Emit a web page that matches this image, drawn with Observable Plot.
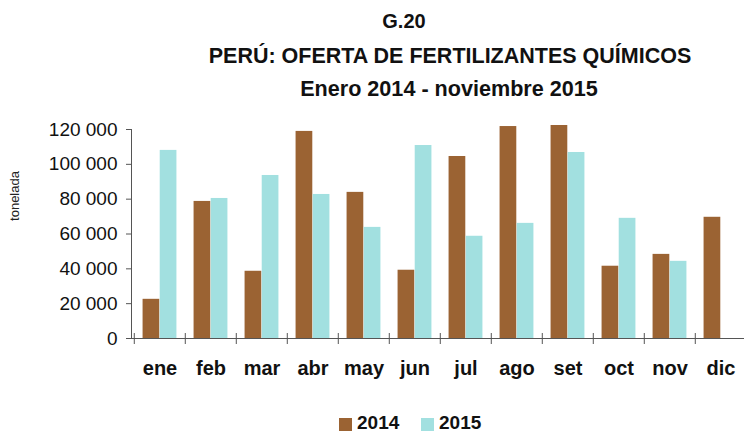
<!DOCTYPE html>
<html>
<head>
<meta charset="utf-8">
<script src="https://cdn.jsdelivr.net/npm/d3@7"></script>
<script src="https://cdn.jsdelivr.net/npm/@observablehq/plot@0.6"></script>
<style>
  html, body { margin: 0; padding: 0; background: #fff; }
  body { width: 744px; height: 432px; overflow: hidden; font-family: "Liberation Sans", Arial, sans-serif; }
  #wrap { position: relative; width: 744px; height: 432px; overflow: hidden; }
  #chart { position: absolute; left: 0; top: 0; width: 760px; }
  .t { position: absolute; font-weight: bold; color: #111; white-space: nowrap; line-height: 1; }
  #ylab { position: absolute; left: 11px; top: 160px; width: 14px; height: 72px; }
  .lg { position: absolute; font-weight: bold; font-size: 19px; color: #111; line-height: 1; }
  .sw { position: absolute; width: 13px; height: 13px; }
</style>
</head>
<body>
<div id="wrap">
  <div id="chart"></div>
  <div class="t" id="g20" style="font-size:20px;">G.20</div>
  <div class="t" id="t1" style="font-size:21.5px;">PERÚ: OFERTA DE FERTILIZANTES QUÍMICOS</div>
  <div class="t" id="t2" style="font-size:21.6px;">Enero 2014 - noviembre 2015</div>
  <div id="ylab"><svg width="20" height="80" style="overflow:visible"><text transform="translate(8,36) rotate(-90)" text-anchor="middle" font-size="13" font-family="Liberation Sans, Arial, sans-serif" fill="#222">tonelada</text></svg></div>
  <div id="legend"></div>
</div>
<script>
const months = ["ene","feb","mar","abr","may","jun","jul","ago","set","oct","nov","dic"];
const series = ["2014","2015"];
const values2014 = [22500, 78700, 38600, 118900, 83900, 39200, 104500, 121700, 122300, 41500, 48300, 69600];
const values2015 = [108000, 80400, 93600, 82700, 63800, 110800, 58700, 66100, 106800, 69000, 44300, null];
const yTicks = [0, 20000, 40000, 60000, 80000, 100000, 120000];
const colors = ["#9b6333", "#a2e0e0"];

const data = [];
months.forEach((m, i) => {
  if (values2014[i] != null) data.push({month: m, year: "2014", value: values2014[i]});
  if (values2015[i] != null) data.push({month: m, year: "2015", value: values2015[i]});
});

const W = 760, H = 432, mL = 131, mR = 12, mT = 129, mB = 94;
const step = (W - mL - mR) / months.length;
const barW = step / 3;
const gapL = (step - 2 * barW) / 2;

const fmt = d => d3.format(",")(d).replace(/,/g, " ");
const axisColor = "#555";

const chart = Plot.plot({
  width: W, height: H,
  marginLeft: mL, marginRight: mR, marginTop: mT, marginBottom: mB,
  style: {fontFamily: "Liberation Sans, Arial, sans-serif", background: "transparent", color: "#111", maxWidth: "none", overflow: "visible"},
  x: {type: "band", domain: months, padding: 0, axis: null},
  y: {domain: [0, 120000], axis: null, label: null},
  color: {domain: series, range: colors},
  marks: [
    Plot.barY(data.filter(d => d.year === "2014"), {x: "month", y: "value", fill: "year",
      insetLeft: gapL, insetRight: step - gapL - barW}),
    Plot.barY(data.filter(d => d.year === "2015"), {x: "month", y: "value", fill: "year",
      insetLeft: gapL + barW, insetRight: step - gapL - 2 * barW}),
    Plot.frame({anchor: "left", stroke: axisColor}),
    Plot.ruleY([0], {stroke: axisColor}),
    Plot.ruleX(months, {x: d => d, dx: -step / 2, y1: 0, y2: 0, insetTop: -5, insetBottom: -6, stroke: axisColor}),
    Plot.axisY({ticks: yTicks, tickFormat: fmt, tickSize: 5, tickPadding: 9, fontSize: 19, stroke: axisColor, fill: "#111", label: null}),
    Plot.ruleY(yTicks, {y: d => d, x1: months[0], x2: months[0], dx: -step / 2, insetLeft: 0, insetRight: -6, stroke: axisColor}),
    Plot.axisX({tickSize: 0, tickPadding: 22, fontSize: 20, fontWeight: "bold", fill: "#111", label: null})
  ]
});
document.getElementById("chart").appendChild(chart);

function place(id, cx, baseline, size) {
  const el = document.getElementById(id);
  const w = el.getBoundingClientRect().width;
  el.style.left = (cx - w / 2) + "px";
  el.style.top = (baseline - size * 0.9) + "px";
}
place("g20", 404, 29, 20);
place("t1", 450, 65, 21.5);
place("t2", 449, 97, 21.6);

const lg = document.getElementById("legend");
const legendPos = [{sx: 339, tx: 357}, {sx: 421, tx: 439}];
series.forEach((s, i) => {
  const sw = document.createElement("div");
  sw.className = "sw";
  sw.style.left = legendPos[i].sx + "px";
  sw.style.top = "418px";
  sw.style.background = colors[i];
  lg.appendChild(sw);
  const tx = document.createElement("div");
  tx.className = "lg";
  tx.textContent = s;
  tx.style.left = legendPos[i].tx + "px";
  tx.style.top = (430 - 19 * 0.9) + "px";
  lg.appendChild(tx);
});
</script>
</body>
</html>
